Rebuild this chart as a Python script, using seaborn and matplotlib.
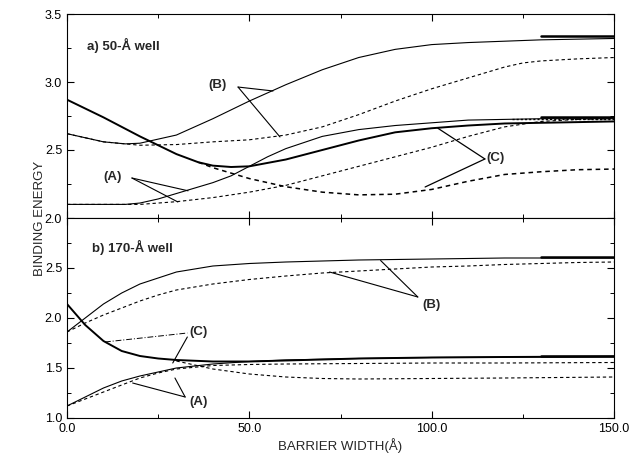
import numpy as np
import pandas as pd
import matplotlib
matplotlib.use("Agg")
import matplotlib.pyplot as plt
from matplotlib.ticker import MultipleLocator, FormatStrFormatter
import seaborn as sns

sns.set_theme(style="white")
plt.rcParams['font.family'] = ['Liberation Sans', 'DejaVu Sans']

# ---------------- data: panel a) 50-Å well ----------------
a_B_solid_x = [0, 10, 16, 20, 30, 40, 50, 60, 70, 80, 90, 100, 110, 120, 130, 140, 150]
a_B_solid_y = [2.62, 2.56, 2.545, 2.55, 2.61, 2.73, 2.86, 2.98, 3.09, 3.18, 3.24, 3.275, 3.29, 3.30, 3.31, 3.315, 3.32]
a_B_dash_x = [0, 10, 20, 30, 40, 50, 60, 70, 80, 90, 100, 110, 120, 125, 130, 140, 150]
a_B_dash_y = [2.62, 2.56, 2.535, 2.54, 2.56, 2.575, 2.61, 2.67, 2.76, 2.86, 2.95, 3.03, 3.11, 3.14, 3.155, 3.17, 3.18]
a_C_solid_x = [0, 10, 20, 30, 36, 40, 45, 50, 60, 70, 80, 90, 100, 110, 120, 130, 140, 150]
a_C_solid_y = [2.87, 2.74, 2.60, 2.47, 2.41, 2.385, 2.375, 2.38, 2.43, 2.50, 2.57, 2.63, 2.66, 2.68, 2.695, 2.70, 2.705, 2.71]
a_C_dash_x = [36, 40, 45, 50, 60, 70, 80, 90, 100, 110, 120, 130, 140, 150]
a_C_dash_y = [2.41, 2.37, 2.33, 2.29, 2.23, 2.19, 2.17, 2.175, 2.21, 2.27, 2.32, 2.34, 2.355, 2.36]
a_A_solid_x = [0, 10, 16, 20, 25, 30, 35, 40, 45, 50, 55, 60, 70, 80, 90, 100, 110, 120, 130, 140, 150]
a_A_solid_y = [2.10, 2.10, 2.10, 2.11, 2.14, 2.18, 2.22, 2.26, 2.31, 2.38, 2.45, 2.51, 2.60, 2.65, 2.68, 2.70, 2.72, 2.725, 2.73, 2.73, 2.73]
a_A_dash_x = [0, 10, 20, 30, 40, 50, 60, 70, 80, 90, 100, 110, 120, 130, 140, 150]
a_A_dash_y = [2.10, 2.10, 2.10, 2.12, 2.15, 2.19, 2.24, 2.31, 2.38, 2.45, 2.52, 2.60, 2.67, 2.71, 2.725, 2.73]
a_limit_x = [130, 150]
a_limit_y = [3.335, 2.745]

# ---------------- data: panel b) 170-Å well ----------------
b_B_solid_x = [0, 5, 10, 15, 20, 25, 30, 40, 50, 60, 70, 80, 100, 120, 150]
b_B_solid_y = [1.86, 2.00, 2.14, 2.25, 2.34, 2.40, 2.46, 2.52, 2.545, 2.56, 2.57, 2.58, 2.59, 2.60, 2.60]
b_B_dash_x = [0, 5, 10, 15, 20, 25, 30, 40, 50, 60, 70, 80, 90, 100, 110, 120, 130, 140, 150]
b_B_dash_y = [1.86, 1.95, 2.03, 2.10, 2.17, 2.23, 2.28, 2.34, 2.385, 2.42, 2.45, 2.47, 2.49, 2.51, 2.52, 2.535, 2.545, 2.555, 2.56]
b_C_solid_x = [0, 5, 10, 15, 20, 25, 30, 40, 50, 60, 70, 80, 100, 120, 150]
b_C_solid_y = [2.14, 1.93, 1.77, 1.67, 1.62, 1.595, 1.58, 1.565, 1.565, 1.575, 1.585, 1.595, 1.605, 1.61, 1.615]
b_C_dash_x = [30, 35, 40, 50, 60, 70, 80, 100, 120, 150]
b_C_dash_y = [1.57, 1.53, 1.49, 1.44, 1.41, 1.395, 1.39, 1.395, 1.40, 1.41]
b_A_solid_x = [0, 5, 10, 15, 20, 25, 30, 40, 50, 60, 80, 100, 150]
b_A_solid_y = [1.12, 1.21, 1.30, 1.37, 1.42, 1.46, 1.50, 1.54, 1.565, 1.58, 1.595, 1.605, 1.615]
b_A_dash_x = [0, 5, 10, 15, 20, 25, 30, 40, 50, 60, 80, 100, 120, 150]
b_A_dash_y = [1.12, 1.19, 1.26, 1.33, 1.40, 1.45, 1.49, 1.525, 1.535, 1.54, 1.545, 1.55, 1.55, 1.555]
b_limit_x = [130, 150]
b_limit_y = [2.615, 1.625]

x_ticks = [0, 50, 100, 150]
a_yticks = [2.0, 2.5, 3.0, 3.5]
b_yticks = [1.0, 1.5, 2.0, 2.5]

fig = plt.figure(figsize=(6.35, 4.55), dpi=100)
L, R = 67 / 635, 614 / 635
ax1 = fig.add_axes([L, 1 - 218 / 455, R - L, 204 / 455])
ax2 = fig.add_axes([L, 1 - 418 / 455, R - L, 200 / 455])

DASH = (0, (3, 2.5))
THIN, THICK = 0.8, 1.4


def curve(ax, x, y, ls='-', lw=THIN):
    sns.lineplot(x=x, y=y, ax=ax, color='black', linestyle=ls, linewidth=lw,
                 estimator=None, sort=False)


# panel a
curve(ax1, a_B_solid_x, a_B_solid_y)
curve(ax1, a_B_dash_x, a_B_dash_y, DASH)
curve(ax1, a_C_solid_x, a_C_solid_y, lw=THICK)
curve(ax1, a_C_dash_x, a_C_dash_y, DASH, lw=1.1)
curve(ax1, a_A_solid_x, a_A_solid_y)
curve(ax1, a_A_dash_x, a_A_dash_y, DASH)
for yv in a_limit_y:
    curve(ax1, a_limit_x, [yv, yv], lw=1.8)
curve(ax1, [122, 150], [2.728, 2.728], (0, (1.5, 1.5)), lw=1.0)

# panel b
curve(ax2, b_B_solid_x, b_B_solid_y)
curve(ax2, b_B_dash_x, b_B_dash_y, DASH)
curve(ax2, b_C_solid_x, b_C_solid_y, lw=THICK)
curve(ax2, b_C_dash_x, b_C_dash_y, DASH)
curve(ax2, b_A_solid_x, b_A_solid_y)
curve(ax2, b_A_dash_x, b_A_dash_y, DASH)
for yv in b_limit_y:
    curve(ax2, b_limit_x, [yv, yv], lw=1.8)

# annotations panel a
fs = 9.5
ax1.text(5.5, 3.27, "a) 50-Å well", fontsize=fs, fontweight='bold', va='center', ha='left')
ax1.text(41.4, 2.975, "(B)", fontsize=fs, fontweight='bold', va='center', ha='center')
ax1.plot([46.9, 56.5], [2.963, 2.934], color='black', lw=0.8)
ax1.plot([46.9, 58.4], [2.963, 2.596], color='black', lw=0.8)
ax1.text(12.6, 2.30, "(A)", fontsize=fs, fontweight='bold', va='center', ha='center')
ax1.plot([17.8, 33.2], [2.294, 2.20], color='black', lw=0.8)
ax1.plot([17.8, 30.4], [2.294, 2.118], color='black', lw=0.8)
ax1.text(117.6, 2.44, "(C)", fontsize=fs, fontweight='bold', va='center', ha='center')
ax1.plot([114.6, 101.7], [2.434, 2.66], color='black', lw=0.9)
ax1.plot([114.6, 98.2], [2.434, 2.228], color='black', lw=0.9)

# annotations panel b
ax2.text(6.8, 2.71, "b) 170-Å well", fontsize=fs, fontweight='bold', va='center', ha='left')
ax2.text(100, 2.13, "(B)", fontsize=fs, fontweight='bold', va='center', ha='center')
ax2.plot([96.2, 86], [2.21, 2.575], color='black', lw=0.8)
ax2.plot([96.2, 72], [2.21, 2.46], color='black', lw=0.8)
ax2.text(36.0, 1.86, "(C)", fontsize=fs, fontweight='bold', va='center', ha='center')
ax2.plot([10.4, 33.0], [1.76, 1.85], color='black', lw=0.7, linestyle=(0, (6, 2, 1, 2)))
ax2.plot([33.0, 29.0], [1.81, 1.55], color='black', lw=0.8)
ax2.text(36.0, 1.16, "(A)", fontsize=fs, fontweight='bold', va='center', ha='center')
ax2.plot([32.4, 18.0], [1.21, 1.35], color='black', lw=0.8)
ax2.plot([32.4, 29.6], [1.21, 1.40], color='black', lw=0.8)

for ax in (ax1, ax2):
    ax.set_xlim(0, 150)
    ax.xaxis.set_minor_locator(MultipleLocator(25))
    ax.yaxis.set_minor_locator(MultipleLocator(0.25))
    ax.set_xticks(x_ticks)
    ax.tick_params(which='both', direction='in', top=True, right=True,
                   bottom=True, left=True, colors='black', labelsize=9)
    ax.tick_params(which='major', length=5, width=0.8)
    ax.tick_params(which='minor', length=3, width=0.7)
    for s in ax.spines.values():
        s.set_color('black')
        s.set_linewidth(0.8)
    ax.set_xlabel('')
    ax.set_ylabel('')
    ax.grid(False)

ax1.set_ylim(2.0, 3.5)
ax1.set_yticks(a_yticks)
ax1.yaxis.set_major_formatter(FormatStrFormatter('%.1f'))
ax1.tick_params(labelbottom=False)

ax2.set_ylim(1.0, 3.0)
ax2.set_yticks(b_yticks)
ax2.yaxis.set_major_formatter(FormatStrFormatter('%.1f'))
ax2.xaxis.set_major_formatter(FormatStrFormatter('%.1f'))
ax2.set_xlabel("BARRIER WIDTH(Å)", fontsize=9.5, labelpad=2)

fig.text(40 / 635, 1 - 218 / 455, "BINDING ENERGY", rotation=90, fontsize=9.5,
         va='center', ha='center')

fig.savefig("out.png", dpi=100)
